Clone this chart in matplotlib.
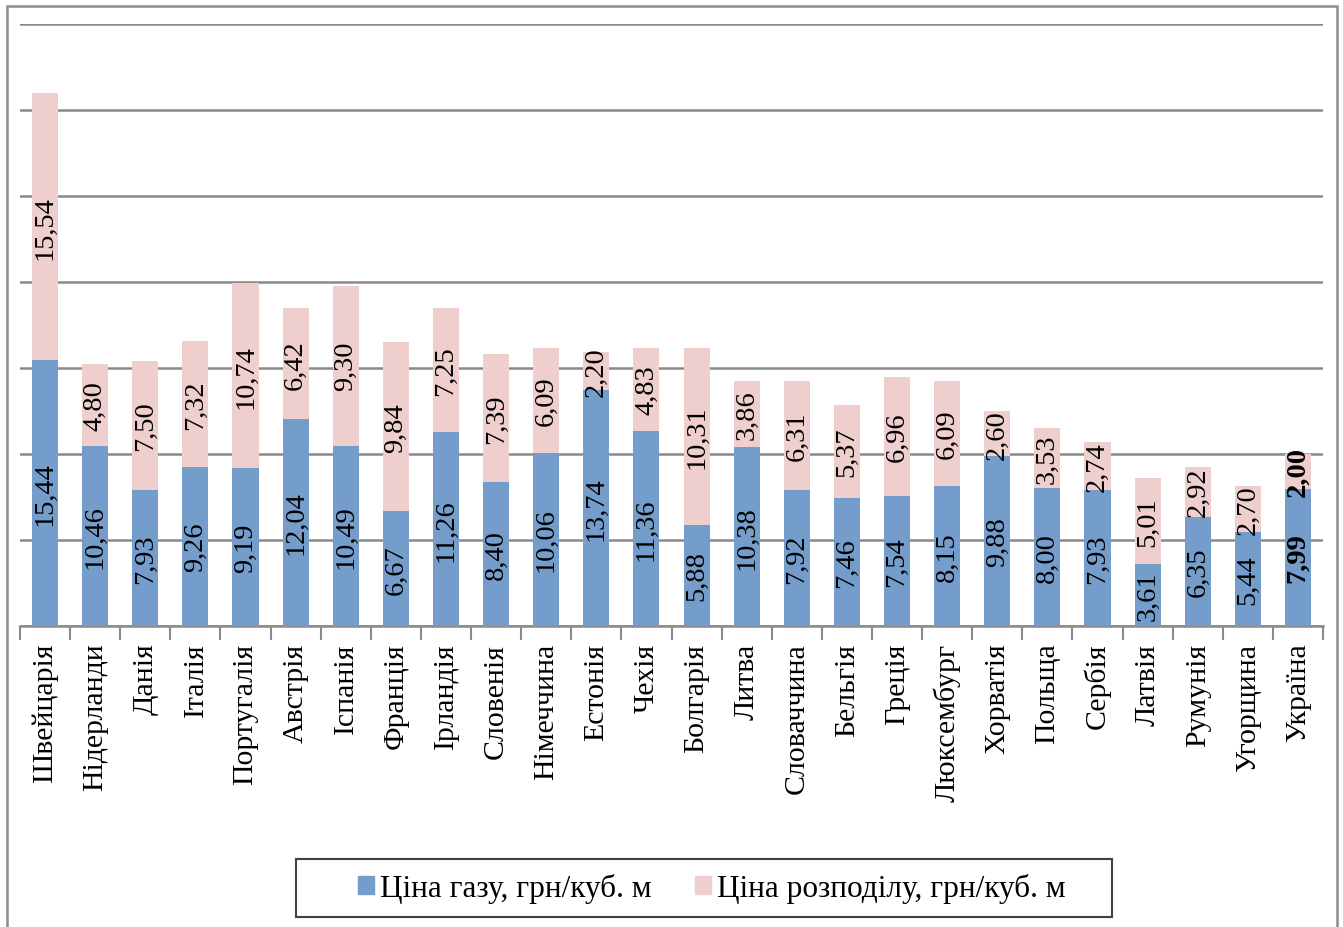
import matplotlib
matplotlib.use("Agg")
import matplotlib.pyplot as plt
from matplotlib.patches import Rectangle
import numpy as np

countries = ["Швейцарія", "Нідерланди", "Данія", "Італія", "Португалія", "Австрія",
             "Іспанія", "Франція", "Ірландія", "Словенія", "Німеччина", "Естонія",
             "Чехія", "Болгарія", "Литва", "Словаччина", "Бельгія", "Греція",
             "Люксембург", "Хорватія", "Польща", "Сербія", "Латвія", "Румунія",
             "Угорщина", "Україна"]
gas_price = [15.44, 10.46, 7.93, 9.26, 9.19, 12.04, 10.49, 6.67, 11.26, 8.40, 10.06, 13.74,
             11.36, 5.88, 10.38, 7.92, 7.46, 7.54, 8.15, 9.88, 8.00, 7.93, 3.61, 6.35,
             5.44, 7.99]
dist_price = [15.54, 4.80, 7.50, 7.32, 10.74, 6.42, 9.30, 9.84, 7.25, 7.39, 6.09, 2.20,
              4.83, 10.31, 3.86, 6.31, 5.37, 6.96, 6.09, 2.60, 3.53, 2.74, 5.01, 2.92,
              2.70, 2.00]
legend_labels = ["Ціна газу, грн/куб. м", "Ціна розподілу, грн/куб. м"]

BLUE = "#759DCB"
PINK = "#EECFCE"
GRID = "#8A8A8A"
FONT = "Liberation Serif"
W, H = 1343, 928

plt.rcParams["font.family"] = [FONT, "DejaVu Serif"]

fig = plt.figure(figsize=(W / 100, H / 100), dpi=100)
ax = fig.add_axes([20 / W, 1 - 627 / H, (1323 - 20) / W, (627 - 25) / H])

x = np.arange(len(countries))
w = 0.52
ax.bar(x, gas_price, width=w, color=BLUE, zorder=3)
ax.bar(x, dist_price, width=w, bottom=gas_price, color=PINK, zorder=3)

def fmt(v):
    return f"{v:.2f}".replace(".", ",")

for i, (g, d) in enumerate(zip(gas_price, dist_price)):
    weight = "bold" if i == len(countries) - 1 else "normal"
    ax.text(i, g / 2, fmt(g), rotation=90, ha="center", va="center",
            fontsize=20.5, fontweight=weight, zorder=4)
    ax.text(i, g + d / 2, fmt(d), rotation=90, ha="center", va="center",
            fontsize=20.5, fontweight=weight, zorder=4)

ax.set_xlim(-0.5, len(countries) - 0.5)
ax.set_ylim(0, 35)
ax.set_yticks(np.arange(0, 36, 5))
ax.set_yticklabels([])
ax.tick_params(axis="y", length=0)
ax.grid(axis="y", color=GRID, linewidth=1.8, zorder=0)
for s in ["left", "right", "top"]:
    ax.spines[s].set_visible(False)
ax.spines["bottom"].set_color(GRID)
ax.spines["bottom"].set_linewidth(1.8)

# category separators below the baseline
ax.set_xticks(np.arange(-0.5, len(countries), 1.0))
ax.set_xticklabels([])
ax.tick_params(axis="x", direction="out", length=10, width=1.5, color=GRID)
ax.set_xticks(x, minor=True)
ax.set_xticklabels(countries, minor=True, rotation=90, fontsize=21.5)
ax.tick_params(axis="x", which="minor", length=0, pad=12)

# outer chart frame
fig.patches.append(Rectangle((7 / W, -0.05), (1337 - 7) / W, 1.05 - 7 / H,
                             transform=fig.transFigure, fill=False,
                             edgecolor="#8C8C8C", linewidth=1.8))

# legend box
fig.patches.append(Rectangle((296 / W, 1 - 918 / H), (1112 - 296) / W, (918 - 860) / H,
                             transform=fig.transFigure, fill=False,
                             edgecolor="#404040", linewidth=1.5, zorder=5))

handles = [Rectangle((0, 0), 1, 1, color=BLUE), Rectangle((0, 0), 1, 1, color=PINK)]
leg = fig.legend(handles, legend_labels, loc="center",
                 bbox_to_anchor=(712 / W, 1 - 889 / H), ncol=2,
                 fontsize=22.5, frameon=False, handlelength=0.5,
                 handleheight=0.55, handletextpad=0.2, columnspacing=1.4,
                 borderpad=0.3)

fig.savefig("out.png", dpi=100)
